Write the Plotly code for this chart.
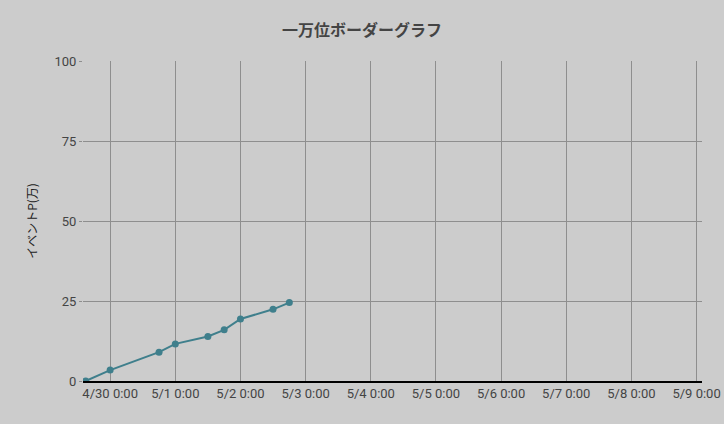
import plotly.graph_objects as go

# Data
times = [
    "2024-04-29 15:00", "2024-04-30 00:00", "2024-04-30 18:00", "2024-05-01 00:00",
    "2024-05-01 12:00", "2024-05-01 18:00", "2024-05-02 00:00", "2024-05-02 12:00",
    "2024-05-02 18:00",
]
points = [0.0, 3.4, 9.0, 11.6, 13.9, 16.0, 19.4, 22.4, 24.5]

x_range = ["2024-04-29 14:00", "2024-05-09 02:00"]
y_ticks = [0, 25, 50, 75, 100]

fig = go.Figure()
fig.add_trace(go.Scatter(
    x=times,
    y=points,
    mode="lines+markers",
    line=dict(color="#3f7f8c", width=2),
    marker=dict(color="#3f7f8c", size=7),
    showlegend=False,
))

fig.update_layout(
    width=724,
    height=424,
    paper_bgcolor="#cccccc",
    plot_bgcolor="#cccccc",
    margin=dict(l=83, r=22, t=61, b=43),
    font=dict(family="Roboto, Noto Sans CJK JP", size=13, color="#444444"),
    title=dict(
        text="<b>一万位ボーダーグラフ</b>",
        x=0.5,
        xanchor="center",
        y=1 - 30 / 424,
        yanchor="middle",
        font=dict(family="Noto Sans CJK JP", size=16, color="#444444"),
    ),
    xaxis=dict(
        range=x_range,
        tick0="2024-04-30",
        dtick=86400000,
        tickformat="%-m/%-d %-H:%M",
        showgrid=True,
        gridcolor="#8e8e8e",
        showline=True,
        linecolor="#000000",
        linewidth=1.5,
        zeroline=False,
        ticks="",
        automargin=False,
    ),
    yaxis=dict(
        range=[0, 100],
        tickvals=y_ticks,
        showgrid=True,
        gridcolor="#8e8e8e",
        zeroline=False,
        showline=False,
        title=dict(text="イベントP(万)", standoff=14,
                   font=dict(family="Noto Sans CJK JP", size=12, color="#222222")),
        ticks="outside",
        ticklen=3,
        tickcolor="#8e8e8e",
        automargin=False,
    ),
)

# drop the page's default body margin so the figure sits at the window corner
fig.write_html(
    "out.html",
    config={"displayModeBar": False},
    post_script="document.body.style.margin='0';",
)
